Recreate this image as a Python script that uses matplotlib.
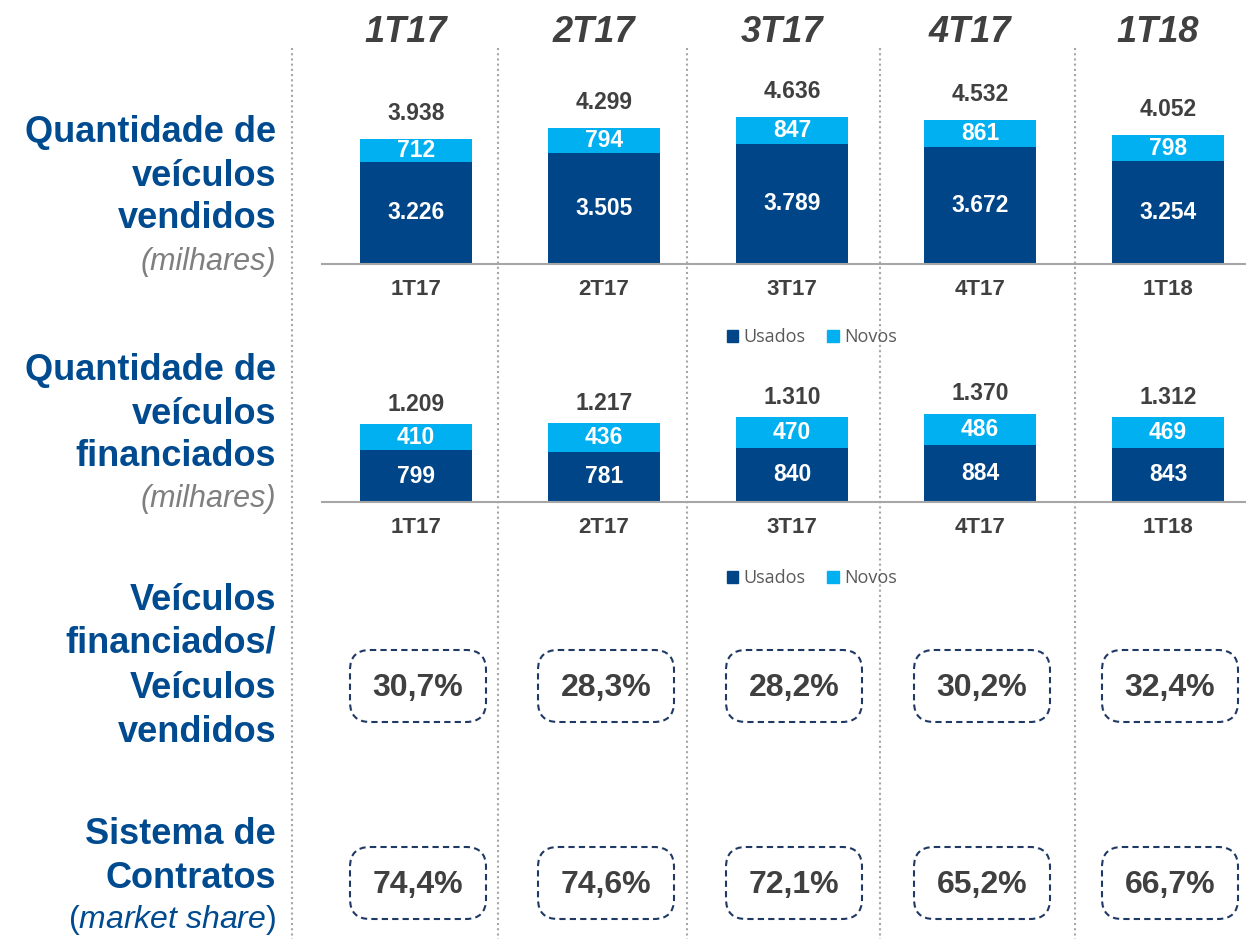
import matplotlib.pyplot as plt
from matplotlib.patches import FancyBboxPatch, Patch

plt.rcParams['font.family'] = ['Liberation Sans', 'DejaVu Sans']
plt.rcParams['mathtext.fontset'] = 'custom'
plt.rcParams['mathtext.rm'] = 'Liberation Sans'
plt.rcParams['mathtext.it'] = 'Liberation Sans:italic'

# data
quarters = ["1T17", "2T17", "3T17", "4T17", "1T18"]
usados_vendidos = [3226, 3505, 3789, 3672, 3254]
novos_vendidos = [712, 794, 847, 861, 798]
total_vendidos = [3938, 4299, 4636, 4532, 4052]
usados_financiados = [799, 781, 840, 884, 843]
novos_financiados = [410, 436, 470, 486, 469]
total_financiados = [1209, 1217, 1310, 1370, 1312]
financiados_sobre_vendidos = [30.7, 28.3, 28.2, 30.2, 32.4]
market_share = [74.4, 74.6, 72.1, 65.2, 66.7]

DARK = "#004587"
LIGHT = "#00B0F0"
LABEL = "#004A8F"
GRAY = "#404040"

W, H = 1246, 939
fig = plt.figure(figsize=(W / 100, H / 100), dpi=100)


def rect(l, t, r, b):
    return [l / W, 1 - b / H, (r - l) / W, (b - t) / H]


def br(v):
    return f"{v:,}".replace(",", ".")


def pct(v):
    return f"{v:.1f}%".replace(".", ",")


# overlay in pixel coordinates for texts, separators, boxes
ov = fig.add_axes([0, 0, 1, 1])
ov.set_xlim(0, W)
ov.set_ylim(H, 0)
ov.axis("off")

x = list(range(len(quarters)))


def stacked(ax, usados, novos, totais, ymax, pad, legend_y):
    b1 = ax.bar(x, usados, width=0.596, color=DARK)
    b2 = ax.bar(x, novos, bottom=usados, width=0.596, color=LIGHT)
    ax.bar_label(b1, labels=[br(v) for v in usados], label_type="center",
                 color="white", fontsize=16.5, fontweight="bold")
    ax.bar_label(b2, labels=[br(v) for v in novos], label_type="center",
                 color="white", fontsize=16.5, fontweight="bold")
    ax.bar_label(b2, labels=[br(v) for v in totais], padding=pad,
                 color=GRAY, fontsize=16.5, fontweight="bold")
    ax.set_xlim(-0.5, 4.415)
    ax.set_ylim(0, ymax)
    ax.set_xticks(x, quarters)
    ax.tick_params(axis="x", length=0, pad=11, labelsize=16, labelcolor=GRAY)
    for lab in ax.get_xticklabels():
        lab.set_fontweight("bold")
    ax.set_yticks([])
    for s in ["top", "left", "right"]:
        ax.spines[s].set_visible(False)
    ax.spines["bottom"].set_color("#A6A6A6")
    ax.spines["bottom"].set_linewidth(1.5)
    ax.patch.set_alpha(0)
    ax.legend([Patch(color=DARK), Patch(color=LIGHT)], ["Usados", "Novos"],
              ncol=2, frameon=False, loc="center",
              bbox_to_anchor=(812, legend_y), bbox_transform=ov.transData,
              prop={"family": "Open Sans", "size": 13},
              handlelength=0.65, handleheight=0.65,
              handletextpad=0.3, columnspacing=1.2, labelcolor="#595959")
    return ax


ax1 = fig.add_axes(rect(322, 64, 1246, 264))
stacked(ax1, usados_vendidos, novos_vendidos, total_vendidos, 6300, 10, 337)

ax2 = fig.add_axes(rect(322, 352, 1246, 502))
stacked(ax2, usados_financiados, novos_financiados, total_financiados, 2325, 6, 578)

centers = [416 + 188 * i for i in x]

# headers
for cx, q in zip(centers, quarters):
    ov.text(cx - 10, 32, q, ha="center", va="center", fontsize=26,
            fontweight="bold", fontstyle="italic", color=GRAY)

# dotted separators
for sx in [292, 498, 687, 880, 1075]:
    ov.plot([sx, sx], [48, H], color="#A6A6A6", lw=1.5, ls=(0, (1, 1.5)))

# ratio boxes
for row_y, vals in [(686, financiados_sobre_vendidos), (883, market_share)]:
    for cx, v in zip(centers, vals):
        ov.add_patch(FancyBboxPatch((cx + 2 - 68, row_y - 36), 136, 72,
                                    boxstyle="round,pad=0,rounding_size=20",
                                    fc="none", ec="#1F3864", lw=1.5,
                                    ls=(0, (3, 2))))
        ov.text(cx + 2, row_y + 2, pct(v), ha="center", va="center",
                fontsize=23, fontweight="bold", color=GRAY)


# left row labels
def left(y, s, **kw):
    style = dict(ha="right", va="center", fontsize=26, fontweight="bold", color=LABEL)
    style.update(kw)
    ov.text(276, y, s, **style)


sub = dict(fontsize=22, fontweight="normal", fontstyle="italic", color="#7F7F7F")
left(132, "Quantidade de")
left(176, "veículos")
left(219, "vendidos")
left(262, "(milhares)", **sub)
left(371, "Quantidade de")
left(414, "veículos")
left(457, "financiados")
left(499, "(milhares)", **sub)
left(600, "Veículos")
left(643, "financiados/")
left(688, "Veículos")
left(732, "vendidos")
left(834, "Sistema de")
left(878, "Contratos")
left(920, r"($\mathit{market\ share}$)", fontweight="normal", fontsize=23)

fig.savefig("out.png", dpi=100)
